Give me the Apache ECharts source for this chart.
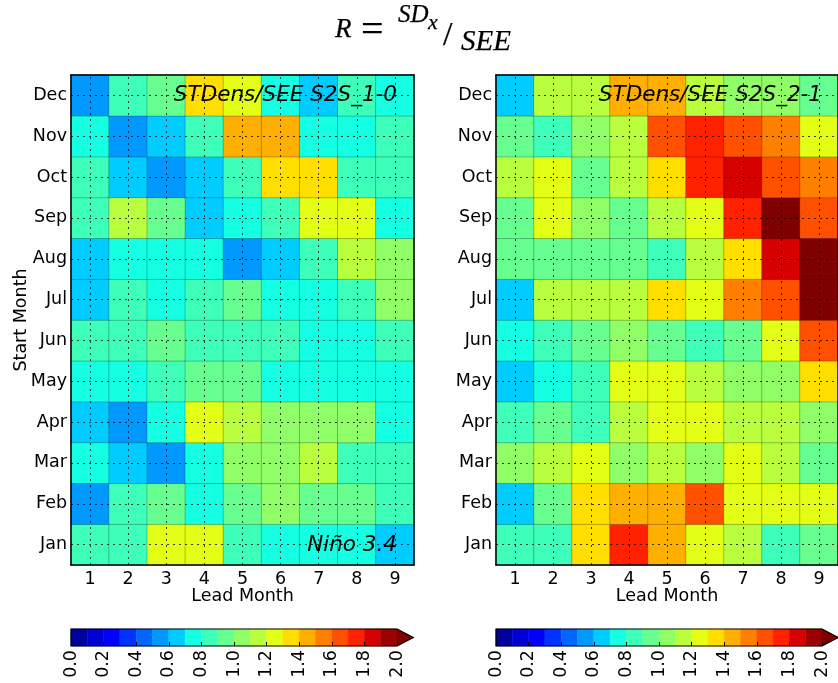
<!DOCTYPE html>
<html>
<head>
<meta charset="utf-8">
<script src="https://cdn.jsdelivr.net/npm/echarts@6/dist/echarts.min.js"></script>
<style>
  html, body { margin: 0; padding: 0; background: #ffffff; }
  #chart { width: 838px; height: 683px; }
</style>
</head>
<body>
<div id="chart"></div>
<script>
// Axis categories
const leadMonths = ['1', '2', '3', '4', '5', '6', '7', '8', '9'];
const startMonths = ['Jan', 'Feb', 'Mar', 'Apr', 'May', 'Jun', 'Jul', 'Aug', 'Sep', 'Oct', 'Nov', 'Dec'];

// STDens/SEE ratio, S2S_1-0 (rows follow startMonths, columns follow leadMonths)
const ratioS2S10 = [
  [0.85, 0.85, 1.25, 1.25, 0.85, 0.75, 0.75, 0.75, 0.65], // Jan
  [0.55, 0.85, 0.95, 0.75, 0.95, 1.05, 0.95, 0.95, 0.85], // Feb
  [0.75, 0.65, 0.55, 0.75, 1.05, 1.05, 1.15, 0.85, 0.85], // Mar
  [0.65, 0.55, 0.75, 1.25, 1.15, 1.05, 1.05, 1.05, 0.75], // Apr
  [0.75, 0.75, 0.85, 0.95, 0.95, 0.75, 0.75, 0.75, 0.75], // May
  [0.85, 0.85, 0.95, 0.85, 0.85, 0.85, 0.75, 0.75, 0.85], // Jun
  [0.65, 0.85, 0.75, 0.85, 0.95, 0.75, 0.75, 0.85, 1.05], // Jul
  [0.65, 0.75, 0.75, 0.75, 0.55, 0.65, 0.85, 1.15, 1.05], // Aug
  [0.85, 1.15, 0.95, 0.65, 0.75, 0.85, 1.25, 1.25, 0.75], // Sep
  [0.85, 0.65, 0.55, 0.65, 0.85, 1.35, 1.35, 0.85, 0.85], // Oct
  [0.75, 0.55, 0.65, 0.85, 1.45, 1.45, 0.75, 0.75, 0.85], // Nov
  [0.55, 0.85, 0.95, 1.35, 1.25, 0.75, 0.65, 0.85, 0.75]  // Dec
];

// STDens/SEE ratio, S2S_2-1
const ratioS2S21 = [
  [0.85, 0.85, 1.35, 1.75, 1.45, 1.25, 1.15, 0.85, 0.95], // Jan
  [0.65, 0.95, 1.35, 1.45, 1.45, 1.65, 1.25, 1.25, 1.25], // Feb
  [1.05, 1.15, 1.25, 1.05, 1.15, 1.05, 1.25, 1.15, 0.95], // Mar
  [0.85, 0.95, 0.85, 1.15, 1.25, 1.25, 1.15, 1.15, 1.05], // Apr
  [0.65, 0.75, 0.85, 1.25, 1.25, 1.15, 1.05, 1.05, 1.35], // May
  [0.75, 0.85, 0.95, 1.05, 0.95, 0.85, 0.95, 1.25, 1.65], // Jun
  [0.65, 1.15, 1.15, 1.15, 1.35, 1.25, 1.55, 1.65, 2.05], // Jul
  [0.95, 0.95, 0.95, 0.95, 0.85, 1.15, 1.35, 1.85, 2.05], // Aug
  [0.95, 1.25, 1.05, 0.95, 1.15, 1.25, 1.75, 2.05, 1.65], // Sep
  [1.15, 1.25, 0.95, 1.15, 1.35, 1.75, 1.85, 1.65, 1.55], // Oct
  [0.95, 0.85, 1.05, 1.15, 1.65, 1.75, 1.65, 1.55, 1.25], // Nov
  [0.65, 1.15, 1.15, 1.45, 1.45, 1.15, 1.05, 1.05, 0.95]  // Dec
];

// Colour levels of the colorbar and its tick labels
const cbarLevels = [0.0, 0.1, 0.2, 0.3, 0.4, 0.5, 0.6, 0.7, 0.8, 0.9, 1.0,
                    1.1, 1.2, 1.3, 1.4, 1.5, 1.6, 1.7, 1.8, 1.9, 2.0];
const cbarTicks = [0.0, 0.2, 0.4, 0.6, 0.8, 1.0, 1.2, 1.4, 1.6, 1.8, 2.0];
const cbarOverWidth = 0.1; // length of the "extend max" triangle, in data units

// matplotlib "jet" colormap
const jetSegments = {
  r: [[0, 0], [0.35, 0], [0.66, 1], [0.89, 1], [1, 0.5]],
  g: [[0, 0], [0.125, 0], [0.375, 1], [0.64, 1], [0.91, 0], [1, 0]],
  b: [[0, 0.5], [0.11, 1], [0.34, 1], [0.65, 0], [1, 0]]
};
function segInterp(pts, t) {
  for (let i = 0; i < pts.length - 1; i++) {
    const [x0, y0] = pts[i], [x1, y1] = pts[i + 1];
    if (t <= x1) return y0 + (y1 - y0) * (t - x0) / (x1 - x0);
  }
  return pts[pts.length - 1][1];
}
function jet(t) {
  const c = ['r', 'g', 'b'].map(k => Math.round(255 * segInterp(jetSegments[k], t)));
  return 'rgb(' + c.join(',') + ')';
}

const nBins = cbarLevels.length - 1;
const pieces = [];
for (let i = 0; i < nBins; i++) {
  pieces.push({ gte: cbarLevels[i], lt: cbarLevels[i + 1], color: jet((i + 0.5) / nBins) });
}
pieces.push({ gte: cbarLevels[nBins], color: jet(1) });

function toCells(rows) {
  const out = [];
  rows.forEach((row, y) => row.forEach((v, x) => out.push([x, y, v])));
  return out;
}

const FONT = '"DejaVu Sans", sans-serif';
const LABEL_SIZE = 17.5;

const gridLines = {
  silent: true,
  symbol: ['none', 'none'],
  label: { show: false },
  emphasis: { disabled: true },
  animation: false,
  lineStyle: { type: [2, 4], color: '#000', width: 1, opacity: 0.75 },
  data: leadMonths.map(m => ({ xAxis: m })).concat(startMonths.map(m => ({ yAxis: m })))
};

function panelAxes(gridIndex, withYName) {
  const common = {
    gridIndex,
    type: 'category',
    z: 10,
    axisLine: { lineStyle: { color: '#000', width: 1.5 } },
    axisTick: { inside: true, alignWithLabel: true, length: 4, lineStyle: { color: '#000' } },
    splitLine: { show: false }
  };
  const xs = [
    Object.assign({}, common, {
      position: 'bottom', data: leadMonths,
      axisLabel: { color: '#000', fontSize: LABEL_SIZE, fontFamily: FONT, margin: 5 },
      name: 'Lead Month', nameLocation: 'middle', nameGap: 22, nameMoveOverlap: false,
      nameTextStyle: { color: '#000', fontSize: LABEL_SIZE, fontFamily: FONT }
    }),
    Object.assign({}, common, { position: 'top', data: leadMonths, axisLabel: { show: false } })
  ];
  const ys = [
    Object.assign({}, common, {
      position: 'left', data: startMonths,
      axisLabel: { color: '#000', fontSize: LABEL_SIZE, fontFamily: FONT, margin: 4 },
      name: withYName ? 'Start Month' : '', nameLocation: 'middle', nameGap: 41, nameMoveOverlap: false,
      nameTextStyle: { color: '#000', fontSize: LABEL_SIZE, fontFamily: FONT }
    }),
    Object.assign({}, common, { position: 'right', data: startMonths, axisLabel: { show: false } })
  ];
  return { xs, ys };
}

function cbarAxes(gridIndex) {
  return {
    x: {
      gridIndex, type: 'value', min: cbarLevels[0], max: cbarLevels[nBins], interval: 0.2,
      z: 10,
      axisLine: { show: false },
      axisTick: { inside: true, length: 4, lineStyle: { color: '#000' } },
      splitLine: { show: false },
      axisLabel: {
        rotate: 90, margin: 4, color: '#000', fontSize: LABEL_SIZE, fontFamily: FONT,
        customValues: cbarTicks,
        formatter: v => Number(v).toFixed(1)
      }
    },
    y: { gridIndex, type: 'value', min: 0, max: 1, show: false }
  };
}

const pL = panelAxes(0, true), pR = panelAxes(1, false);
const cL = cbarAxes(2), cR = cbarAxes(3);

const cbarBins = cbarLevels.slice(0, -1).map((lo, i) => [lo, cbarLevels[i + 1], (lo + cbarLevels[i + 1]) / 2]);
const cbarOver = [[cbarLevels[nBins], cbarLevels[nBins] + cbarOverWidth, cbarLevels[nBins] + cbarOverWidth / 2]];

function renderBin(params, api) {
  const lo = api.value(0), hi = api.value(1);
  const p0 = api.coord([lo, 0]), p1 = api.coord([hi, 1]);
  const color = api.visual('color');
  if (lo >= cbarLevels[nBins]) {
    return {
      type: 'polygon',
      shape: { points: [[p0[0], p1[1]], [p1[0], (p0[1] + p1[1]) / 2], [p0[0], p0[1]]] },
      style: { fill: color, stroke: color, lineWidth: 0.5 }
    };
  }
  return {
    type: 'rect',
    shape: { x: p0[0], y: p1[1], width: p1[0] - p0[0], height: p0[1] - p1[1] },
    style: { fill: color, stroke: color, lineWidth: 0.5 }
  };
}

function renderOutline(params, api) {
  const a = api.coord([cbarLevels[0], 1]);
  const b = api.coord([cbarLevels[nBins], 0]);
  const tip = api.coord([cbarLevels[nBins] + cbarOverWidth, 0.5]);
  return {
    type: 'polygon',
    shape: { points: [[a[0], a[1]], [b[0], a[1]], [tip[0], tip[1]], [b[0], b[1]], [a[0], b[1]]] },
    style: { fill: 'none', stroke: '#000', lineWidth: 1.2 },
    z2: 10
  };
}

function cbarSeries(axisIdx) {
  return [
    {
      type: 'custom', xAxisIndex: axisIdx, yAxisIndex: axisIdx, clip: false,
      renderItem: renderBin, data: cbarBins.concat(cbarOver), silent: true
    },
    {
      type: 'custom', xAxisIndex: axisIdx, yAxisIndex: axisIdx, clip: false, z: 5,
      renderItem: renderOutline, data: [[0]], silent: true
    }
  ];
}

function heatSeries(axisX, axisY, rows) {
  return {
    type: 'heatmap',
    xAxisIndex: axisX,
    yAxisIndex: axisY,
    data: toCells(rows),
    itemStyle: { borderColor: 'rgba(0,0,0,0.3)', borderWidth: 0.8 },
    emphasis: { disabled: true },
    silent: true,
    markLine: gridLines
  };
}

const titleFont = 'italic 21.5px ' + FONT;
const SERIF = '"Liberation Serif", serif';
const mathItalic = s => 'italic ' + s + 'px ' + SERIF;
const mathUpright = s => s + 'px ' + SERIF;

function mathText(text, x, y, font) {
  return {
    type: 'text', x, y,
    style: { text, font, fill: '#000', stroke: '#000', lineWidth: 0.25, textAlign: 'left', textVerticalAlign: 'middle' }
  };
}

const option = {
  animation: false,
  backgroundColor: '#ffffff',
  grid: [
    { left: 71, top: 75, width: 343, height: 490 },
    { left: 496, top: 75, width: 343, height: 490 },
    { left: 71, top: 629, width: 326, height: 17 },
    { left: 496, top: 629, width: 326, height: 17 }
  ],
  xAxis: [pL.xs[0], pL.xs[1], pR.xs[0], pR.xs[1], cL.x, cR.x],
  yAxis: [pL.ys[0], pL.ys[1], pR.ys[0], pR.ys[1], cL.y, cR.y],
  visualMap: {
    type: 'piecewise',
    show: false,
    dimension: 2,
    pieces: pieces,
    seriesIndex: [0, 1, 2, 4]
  },
  series: [
    heatSeries(0, 0, ratioS2S10),
    heatSeries(2, 2, ratioS2S21)
  ].concat(cbarSeries(4), cbarSeries(5)),
  graphic: [
    // panel annotations
    { type: 'text', x: 397, y: 95, z: 100,
      style: { text: 'STDens/SEE S2S_1-0', font: titleFont, fill: '#000', textAlign: 'right', textVerticalAlign: 'middle' } },
    { type: 'text', x: 397, y: 545, z: 100,
      style: { text: 'Niño 3.4', font: titleFont, fill: '#000', textAlign: 'right', textVerticalAlign: 'middle' } },
    { type: 'text', x: 822, y: 95, z: 100,
      style: { text: 'STDens/SEE S2S_2-1', font: titleFont, fill: '#000', textAlign: 'right', textVerticalAlign: 'middle' } },
    // R = SD_x / SEE
    mathText('R', 335, 30, mathItalic(27)),
    mathText('=', 361, 31, mathUpright(40)),
    mathText('SD', 398, 15, mathItalic(25)),
    mathText('x', 428, 23, mathItalic(22)),
    mathText('/', 443, 36, mathUpright(34)),
    mathText('SEE', 461, 42, mathItalic(29))
  ]
};

const chart = echarts.init(document.getElementById('chart'), null, { renderer: 'canvas' });
chart.setOption(option);
</script>
</body>
</html>
